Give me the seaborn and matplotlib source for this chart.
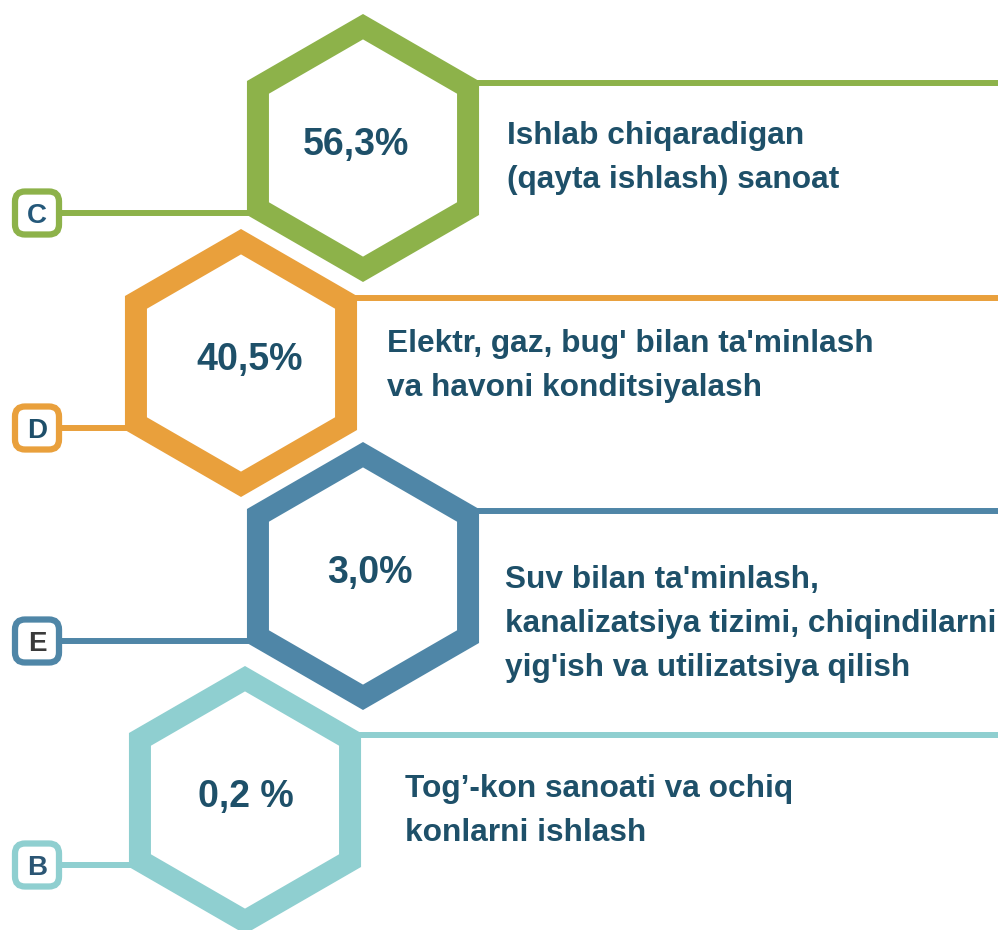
import matplotlib
matplotlib.use("Agg")
import matplotlib.pyplot as plt
from matplotlib.patches import RegularPolygon, FancyBboxPatch
import numpy as np
import seaborn as sns

# Ma'lumotlar
letters = ["C", "D", "E", "B"]
shares = ["56,3%", "40,5%", "3,0%", "0,2 %"]
labels = [
    ["Ishlab chiqaradigan", "(qayta ishlash) sanoat"],
    ["Elektr, gaz, bug' bilan ta'minlash", "va havoni konditsiyalash"],
    ["Suv bilan ta'minlash,", "kanalizatsiya tizimi, chiqindilarni", "yig'ish va utilizatsiya qilish"],
    ["Tog’-kon sanoati va ochiq", "konlarni ishlash"],
]
colors = ["#8DB24A", "#E9A03C", "#4F86A7", "#8FCFD0"]
letter_colors = ["#24587A", "#1E4F6A", "#3A3A3A", "#2B5674"]

# Joylashuv (piksellarda)
hex_x = [363, 241, 363, 245]
hex_y = [148, 363, 576, 800]
pct_x = [356, 250, 370, 246]
text_x = [507, 387, 505, 405]
text_y = [144, 352, 588, 797]
R_OUT = 134
RING = 22
TEXT_COLOR = "#1E5069"

sns.set_theme(style="white")
plt.rcParams["font.family"] = ["Liberation Sans", "DejaVu Sans"]

W, H = 998, 930
fig = plt.figure(figsize=(W / 100, H / 100), dpi=100)
ax = fig.add_axes([0, 0, 1, 1])
ax.set_xlim(0, W)
ax.set_ylim(H, 0)
ax.set_aspect("equal")
ax.axis("off")

cos30 = np.cos(np.pi / 6)
r_in = R_OUT - RING / cos30

for i, letter in enumerate(letters):
    cx, cy = hex_x[i], hex_y[i]
    col = colors[i]

    # lignes de liaison
    y_right = cy - 65
    y_left = cy + 65
    ax.plot([cx + R_OUT * cos30 - 3, W], [y_right, y_right], color=col, lw=4.3,
            solid_capstyle="butt", zorder=1)
    ax.plot([62, cx - R_OUT * cos30 + 3], [y_left, y_left], color=col, lw=4.3,
            solid_capstyle="butt", zorder=1)

    # hexagone (anneau)
    ax.add_patch(RegularPolygon((cx, cy), 6, radius=R_OUT, orientation=0,
                                facecolor=col, edgecolor="none", zorder=2))
    ax.add_patch(RegularPolygon((cx, cy), 6, radius=r_in, orientation=0,
                                facecolor="white", edgecolor="none", zorder=3))

    # pourcentage
    ax.text(pct_x[i], cy + 7, shares[i], ha="center", va="baseline",
            fontsize=27, fontweight="bold", color=TEXT_COLOR, zorder=4)

    # boite avec lettre
    ax.add_patch(FancyBboxPatch((15, y_left - 21.5), 44, 43,
                                boxstyle="round,pad=0,rounding_size=10",
                                facecolor="white", edgecolor=col, lw=4.5, zorder=4))
    ax.text(37, y_left + 10, letter, ha="center", va="baseline",
            fontsize=20, fontweight="bold", color=letter_colors[i], zorder=5)

    # texte descriptif
    for k, line in enumerate(labels[i]):
        ax.text(text_x[i], text_y[i] + k * 44, line, ha="left", va="baseline",
                fontsize=22.8, fontweight="bold", color=TEXT_COLOR, zorder=4)

fig.savefig("out.png", dpi=100, facecolor="white")
